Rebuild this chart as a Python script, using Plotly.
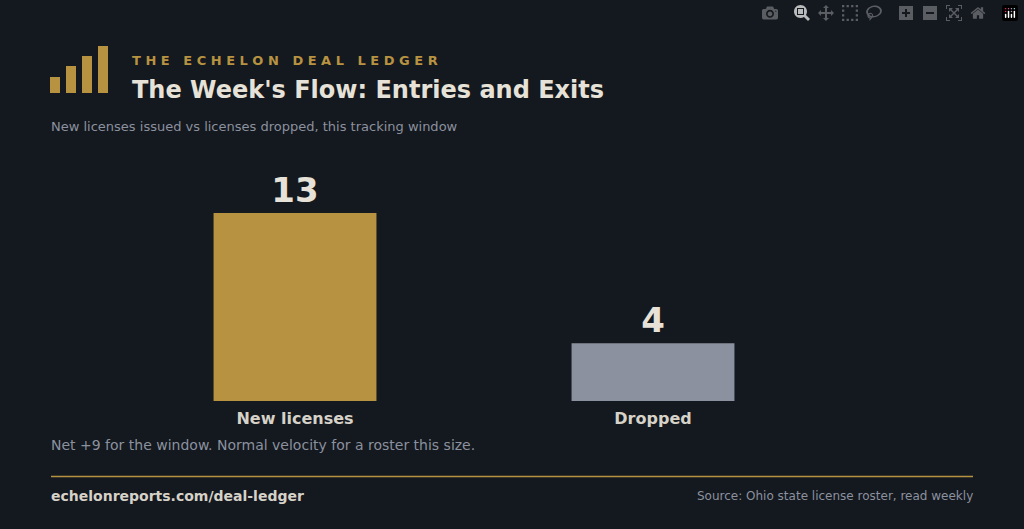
import plotly.graph_objects as go

categories = ["New licenses", "Dropped"]
values = [13, 4]
bar_colors = ["#b79341", "#8b919e"]

W, H = 1024, 529
L, R, T, B = 116, 832, 160, 401
BG = "#14181f"
FONT = "DejaVu Sans"

def px(x): return (x - L) / (R - L)
def py(y): return (B - y) / (B - T)

fig = go.Figure(go.Bar(
    x=categories, y=values, marker_color=bar_colors, marker_line_width=0,
    width=0.455, text=[f"<b>{v}</b>" for v in values], textposition="outside",
    textfont=dict(family=FONT, size=34, color="#e6e2d8"), cliponaxis=False,
))

shapes = []
for x0, y0 in [(50, 77), (66, 66), (82, 56), (98, 46)]:
    shapes.append(dict(type="rect", xref="paper", yref="paper", x0=px(x0), x1=px(x0 + 10),
                       y0=py(93), y1=py(y0), fillcolor="#b79341", line_width=0))
shapes.append(dict(type="line", xref="paper", yref="paper", x0=px(51), x1=px(973),
                   y0=py(476.5), y1=py(476.5), line=dict(color="#b79341", width=1.5)))

def ann(text, x, y, size, color, bold=False, xanchor="left"):
    return dict(text=f"<b>{text}</b>" if bold else text, x=px(x), y=py(y), xref="paper", yref="paper",
                xanchor=xanchor, yanchor="middle", showarrow=False,
                font=dict(family=FONT, size=size, color=color))

kicker = "   ".join(" ".join(w) for w in "THE ECHELON DEAL LEDGER".split())
annotations = [
    ann(kicker, 130, 61, 13, "#b79341", True),
    ann("The Week's Flow: Entries and Exits", 130, 90, 24, "#e6e2d8", True),
    ann("New licenses issued vs licenses dropped, this tracking window", 49, 126, 13, "#8b919e"),
    ann("Net +9 for the window. Normal velocity for a roster this size.", 49, 445, 14, "#8b919e"),
    ann("echelonreports.com/deal-ledger", 49, 496, 14, "#d6d2c8", True),
    ann("Source: Ohio state license roster, read weekly", 975, 496, 12, "#8b919e", xanchor="right"),
]

fig.update_layout(
    width=W, height=H, paper_bgcolor=BG, plot_bgcolor=BG,
    margin=dict(l=L, r=W - R, t=T, b=H - B),
    showlegend=False, shapes=shapes, annotations=annotations,
    xaxis=dict(showgrid=False, zeroline=False, showline=False, ticks="",
               tickfont=dict(family=FONT, size=16, color="#d6d2c8")),
    yaxis=dict(visible=False, range=[0, 16.67]),
)
fig.update_xaxes(ticklabelstandoff=6, tickprefix="<b>", ticksuffix="</b>")
fig.write_html("out.html", post_script="document.body.style.margin='0';document.body.style.background='#14181f';")
